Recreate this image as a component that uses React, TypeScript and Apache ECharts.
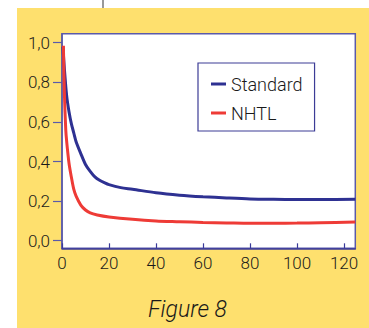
import React, { useEffect, useRef } from "react";
import * as echarts from "echarts";

const seriesNames = ["Standard", "NHTL"];
const standardX = [0.4, 1, 2, 3, 4, 5, 6, 8, 10, 12, 14, 16, 18, 20, 25, 30, 40, 50, 60, 70, 80, 90, 100, 110, 124.8];
const standardY = [0.98, 0.87, 0.73, 0.65, 0.59, 0.545, 0.5, 0.44, 0.385, 0.35, 0.322, 0.305, 0.293, 0.283, 0.268, 0.26, 0.242, 0.23, 0.222, 0.216, 0.211, 0.209, 0.208, 0.208, 0.209];
const nhtlX = [0.6, 1, 1.6, 2, 3, 4, 5, 6, 8, 10, 12, 15, 20, 30, 40, 50, 60, 70, 80, 90, 100, 110, 124.8];
const nhtlY = [0.985, 0.75, 0.56, 0.5, 0.39, 0.32, 0.26, 0.225, 0.18, 0.155, 0.14, 0.13, 0.12, 0.108, 0.1, 0.096, 0.092, 0.09, 0.088, 0.088, 0.089, 0.091, 0.094];
const yTicks = [0, 0.2, 0.4, 0.6, 0.8, 1.0];
const caption = "Figure 8";

const BLUE = "#2E3192";
const RED = "#EE3B36";
const AXIS = "#5A5AAA";

export default function App() {
  const ref = useRef<HTMLDivElement>(null);
  useEffect(() => {
    if (!ref.current) return;
    const chart = echarts.init(ref.current, null, { renderer: "svg" });
    const zip = (xs: number[], ys: number[]) => xs.map((x, i) => [x, ys[i]]);
    chart.setOption({
      animation: false,
      backgroundColor: "#ffffff",
      textStyle: { fontFamily: "Roboto" },
      graphic: [
        { type: "rect", z: -10, shape: { x: 17, y: 8, width: 352, height: 320 }, style: { fill: "#FEE06E" }, silent: true },
        { type: "line", z: -10, shape: { x1: 103, y1: 0, x2: 103, y2: 8 }, style: { stroke: "#777777", lineWidth: 1.5 }, silent: true },
        {
          type: "text",
          x: 187.5,
          y: 309,
          style: {
            text: caption,
            font: "italic 300 23px Roboto",
            fill: "#1a1a1a",
            align: "center",
            verticalAlign: "middle",
          },
        },
      ],
      grid: {
        left: 62,
        top: 33.7,
        width: 293.3,
        height: 214.6,
        show: true,
        backgroundColor: "#ffffff",
        borderColor: AXIS,
        borderWidth: 1.5,
      },
      legend: {
        orient: "vertical",
        left: 198,
        top: 63,
        data: seriesNames,
        icon: "rect",
        itemWidth: 15,
        itemHeight: 3,
        itemGap: 9,
        padding: [11, 12, 8, 13],
        borderColor: "#3C3C96",
        borderWidth: 1.2,
        backgroundColor: "#ffffff",
        textStyle: { fontSize: 18, fontWeight: 300, color: "#1a1a1a", fontFamily: "Roboto", lineHeight: 20 },
      },
      xAxis: {
        type: "value",
        min: 0,
        max: 124.8,
        interval: 20,
        axisLine: { show: true, onZero: false, lineStyle: { color: "#3A3A9A", width: 1.5 } },
        axisTick: { show: true, inside: true, length: 5, lineStyle: { color: "#3A3A9A", width: 1.2 } },
        axisLabel: { color: "#1a1a1a", fontSize: 17, fontWeight: 300, margin: 6, fontFamily: "Roboto", showMaxLabel: false },
        splitLine: { show: false },
      },
      yAxis: {
        type: "value",
        min: -0.0384,
        max: 1.0455,
        axisLine: { show: true, onZero: false, lineStyle: { color: AXIS, width: 1.5 } },
        axisTick: { show: true, inside: false, length: 9, customValues: yTicks, lineStyle: { color: AXIS, width: 1.2 } },
        axisLabel: {
          color: "#1a1a1a",
          fontSize: 17,
          fontWeight: 300,
          margin: 12,
          fontFamily: "Roboto",
          customValues: yTicks,
          formatter: (v: number) => v.toFixed(1).replace(".", ","),
        },
        splitLine: { show: false },
      },
      series: [
        {
          name: seriesNames[0],
          type: "line",
          data: zip(standardX, standardY),
          smooth: 0.3,
          showSymbol: false,
          lineStyle: { color: BLUE, width: 3 },
          itemStyle: { color: BLUE },
          clip: true,
        },
        {
          name: seriesNames[1],
          type: "line",
          data: zip(nhtlX, nhtlY),
          smooth: 0.3,
          showSymbol: false,
          lineStyle: { color: RED, width: 3 },
          itemStyle: { color: RED },
          clip: true,
        },
      ],
    });
    return () => chart.dispose();
  }, []);
  return <div ref={ref} style={{ position: "absolute", left: 0, top: 0, width: 369, height: 328 }} />;
}
